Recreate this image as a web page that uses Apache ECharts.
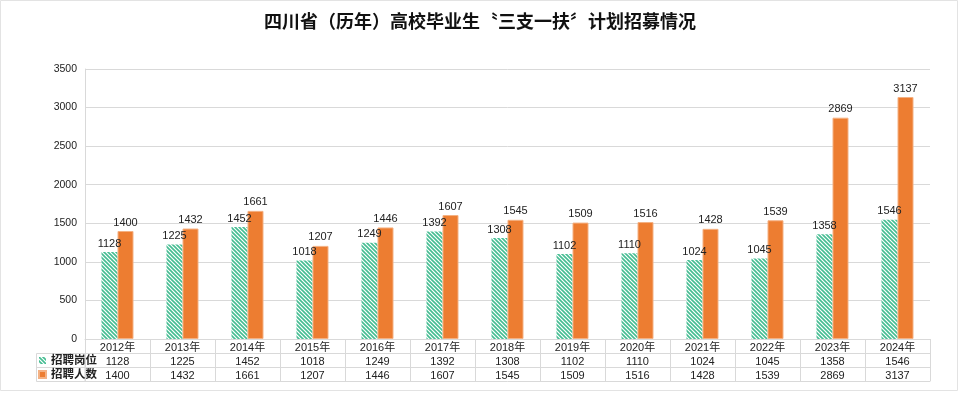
<!DOCTYPE html>
<html><head><meta charset="utf-8">
<script src="https://cdn.jsdelivr.net/npm/echarts@6/dist/echarts.min.js"></script>
<style>html,body{margin:0;padding:0;background:#fff}#c{width:960px;height:393px}</style>
</head><body><div id="c"></div>
<script>
const categories = ['2012年','2013年','2014年','2015年','2016年','2017年','2018年','2019年','2020年','2021年','2022年','2023年','2024年'];
const posts = [1128,1225,1452,1018,1249,1392,1308,1102,1110,1024,1045,1358,1546];
const people = [1400,1432,1661,1207,1446,1607,1545,1509,1516,1428,1539,2869,3137];
const seriesNames = ['招聘岗位','招聘人数'];
const yTicks = {min:0, max:3500, interval:500};

const FONT = '"Liberation Sans","Noto Sans CJK SC",sans-serif';
const GRID_LINE = '#d9d9d9';

function hatch(){
  const c = document.createElement('canvas');
  c.width = 4; c.height = 4;
  const g = c.getContext('2d');
  g.fillStyle = '#ffffff'; g.fillRect(0,0,4,4);
  g.strokeStyle = '#45bd92'; g.lineWidth = 1.6;
  g.beginPath();
  g.moveTo(-1,-1); g.lineTo(5,5);
  g.moveTo(-1,3); g.lineTo(1,5);
  g.moveTo(3,-1); g.lineTo(5,1);
  g.stroke();
  return c;
}
const hatchColor = {image: hatch(), repeat: 'repeat'};

const chart = echarts.init(document.getElementById('c'), null, {renderer:'canvas'});
const rowAxis = (offset, vals) => ({
  type:'category', data: categories, gridIndex:0, position:'bottom', offset: offset,
  axisLine:{show:true, lineStyle:{color:GRID_LINE, width:1}},
  axisTick:{show:false}, splitLine:{show:false},
  axisLabel: vals ? {show:true, margin:3, fontSize:11, color:'#222', fontFamily:FONT, formatter:(v,i)=>String(vals[i])} : {show:false}
});
chart.setOption({
  animation:false,
  backgroundColor:'#fff',
  title:{text:'四川省（历年）高校毕业生〝三支一扶〞计划招募情况', left:'center', top:9,
    textStyle:{fontSize:18, fontWeight:'bold', color:'#111', fontFamily:FONT}},
  legend:{orient:'vertical', left:38, top:354, padding:0, itemWidth:7, itemHeight:7, itemGap:1,
    icon:'rect', itemTextGap:3, textStyle:{fontSize:11.5, fontWeight:'bold', color:'#222', fontFamily:FONT, lineHeight:13},
    data: seriesNames},
  grid:{left:85, right:30, top:69, bottom:54, containLabel:false},
  xAxis:[
    {type:'category', data:categories, position:'bottom',
      axisLine:{show:true, lineStyle:{color:GRID_LINE}},
      axisTick:{show:true, length:42, lineStyle:{color:GRID_LINE}},
      axisLabel:{margin:3, fontSize:11, color:'#222', fontFamily:FONT},
      splitLine:{show:false}},
    rowAxis(14, posts),
    rowAxis(28, people),
    rowAxis(42, null)
  ],
  yAxis:{type:'value', min:yTicks.min, max:yTicks.max, interval:yTicks.interval,
    axisLine:{show:true, lineStyle:{color:GRID_LINE}},
    axisTick:{show:false},
    axisLabel:{fontSize:10.5, color:'#222', margin:8, fontFamily:FONT, formatter:v=>String(v)},
    splitLine:{lineStyle:{color:GRID_LINE}}},
  series:[
    {name:seriesNames[0], type:'bar', data:posts, barWidth:16, barGap:'0%',
      itemStyle:{color:hatchColor},
      label:{show:true, position:'top', distance:3, fontSize:11, color:'#222', fontFamily:FONT}},
    {name:seriesNames[1], type:'bar', data:people, barWidth:16, barGap:'0%',
      itemStyle:{color:'#ED7D31', borderColor:'#F4B183', borderWidth:1},
      label:{show:true, position:'top', distance:3, fontSize:11, color:'#222', fontFamily:FONT}}
  ],
  graphic:[
    {type:'rect', shape:{x:36.5, y:353.5, width:48.5, height:28}, style:{fill:null, stroke:GRID_LINE, lineWidth:1}, silent:true},
    {type:'line', shape:{x1:36.5, y1:367.5, x2:85, y2:367.5}, style:{stroke:GRID_LINE, lineWidth:1}, silent:true},
    {type:'rect', shape:{x:0.5, y:0.5, width:957, height:390}, style:{fill:null, stroke:'#e3e3e3', lineWidth:1}, silent:true}
  ]
});
</script></body></html>
